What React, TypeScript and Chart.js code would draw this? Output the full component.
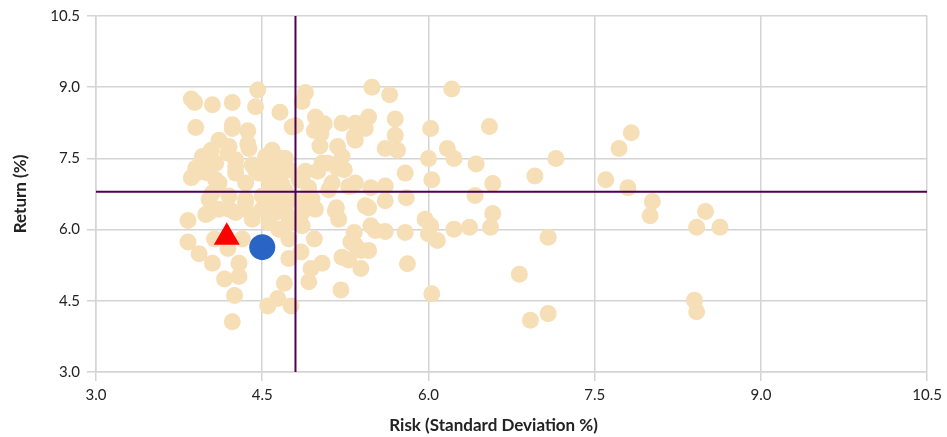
import React, { useEffect, useRef } from "react";
import { Chart, registerables } from "chart.js";

Chart.register(...registerables);

// Fund universe: risk (standard deviation %) and return (%)
const fundRisk = [
  3.86, 3.89, 4.05, 4.23, 4.46, 4.44, 4.66, 3.90, 4.23, 4.37,
  4.23, 4.11, 4.04, 4.19, 4.38, 4.59, 4.71, 4.20, 4.37, 3.96,
  3.90, 3.86, 4.08, 4.26, 4.41, 4.53, 4.68, 4.74, 4.62, 4.47,
  4.26, 4.08, 4.35, 4.56, 4.68, 4.86, 4.89, 4.05, 4.20, 4.35,
  4.50, 4.65, 4.02, 4.20, 4.35, 4.50, 4.62, 4.71, 4.80, 4.56,
  3.83, 4.86, 3.83, 3.93, 4.05, 4.16, 4.29, 4.29, 4.25, 4.23,
  4.19, 4.07, 3.99, 4.32, 4.70, 4.64, 4.55, 4.76, 4.74, 4.85,
  4.74, 4.97, 4.94, 5.04, 4.92, 5.21, 5.22, 5.28, 5.39, 5.33,
  5.34, 5.19, 5.16, 5.43, 4.86, 4.98, 4.71, 4.41, 4.26, 4.11,
  4.02, 4.35, 4.56, 4.74, 4.65, 4.80, 4.89, 4.86, 5.49, 5.65,
  6.21, 4.98, 5.06, 4.97, 5.03, 5.02, 5.22, 5.34, 5.46, 5.43,
  5.34, 5.18, 5.70, 5.70, 5.61, 5.72, 6.02, 6.17, 6.23, 6.00,
  5.79, 6.03, 4.77, 5.24, 5.04, 4.89, 5.13, 5.31, 5.48, 5.61,
  5.17, 5.46, 5.61, 5.80, 4.95, 4.83, 5.09, 5.22, 5.00, 5.18,
  5.34, 4.56, 4.71, 4.92, 5.10, 5.28, 4.11, 4.01, 4.02, 4.26,
  4.44, 4.56, 4.65, 3.90, 5.97, 6.02, 6.00, 6.08, 6.23, 6.37,
  6.56, 6.58, 5.79, 5.61, 5.52, 5.48, 5.30, 5.81, 6.03, 4.77,
  5.46, 5.39, 6.55, 6.43, 6.58, 6.42, 6.96, 7.15, 7.08, 6.82,
  6.92, 7.08, 7.83, 7.72, 7.60, 7.80, 8.02, 8.00, 8.50, 8.42,
  8.63, 8.40, 8.42, 5.33,
];

const fundReturn = [
  8.75, 8.68, 8.63, 8.68, 8.94, 8.59, 8.47, 8.15, 8.21, 8.08,
  8.13, 7.88, 7.67, 7.61, 7.71, 7.67, 7.50, 7.75, 7.81, 7.54,
  7.29, 7.09, 7.40, 7.47, 7.36, 7.54, 7.50, 7.26, 7.19, 7.19,
  7.19, 7.05, 6.98, 7.05, 6.95, 7.05, 6.64, 6.77, 6.71, 6.64,
  6.71, 6.71, 6.36, 6.43, 6.43, 6.43, 6.36, 6.50, 6.22, 6.15,
  6.19, 6.08, 5.74, 5.49, 5.29, 4.96, 5.29, 5.01, 4.61, 4.06,
  5.60, 5.80, 6.32, 5.80, 4.87, 4.55, 4.39, 4.39, 5.39, 5.53,
  5.80, 5.80, 5.18, 5.29, 4.90, 4.73, 5.42, 5.36, 5.18, 5.94,
  5.67, 6.22, 6.39, 6.50, 6.36, 6.43, 6.36, 6.22, 6.36, 6.43,
  6.64, 6.57, 6.64, 6.15, 6.01, 8.19, 8.89, 8.70, 9.00, 8.84,
  8.96, 8.37, 8.23, 8.09, 8.02, 7.76, 8.24, 8.24, 8.37, 8.13,
  7.88, 7.75, 8.33, 7.99, 7.71, 7.67, 8.13, 7.71, 7.50, 7.50,
  7.19, 7.05, 8.16, 7.26, 7.40, 7.23, 6.98, 6.92, 6.88, 6.92,
  6.46, 6.46, 6.61, 6.67, 6.64, 7.05, 7.40, 7.54, 7.23, 7.29,
  6.98, 6.84, 6.81, 6.88, 6.84, 6.91, 6.98, 7.19, 7.43, 7.33,
  7.26, 7.33, 7.26, 7.19, 6.22, 6.08, 5.91, 5.77, 6.01, 6.05,
  6.05, 6.34, 5.94, 5.96, 5.98, 6.08, 5.74, 5.28, 4.65, 6.64,
  5.56, 5.56, 8.17, 7.38, 6.97, 6.72, 7.13, 7.50, 5.84, 5.06,
  4.09, 4.23, 8.04, 7.71, 7.05, 6.88, 6.59, 6.29, 6.38, 6.05,
  6.05, 4.51, 4.27, 7.96,
];

// Highlighted markers
const benchmarkRisk = [4.18];
const benchmarkReturn = [5.84];
const portfolioRisk = [4.5];
const portfolioReturn = [5.63];

// Average crosshair
const averageRisk = 4.8;
const averageReturn = 6.8;

// Axes
const axisMin = 3.0;
const axisMax = 10.5;
const axisTicks = [3.0, 4.5, 6.0, 7.5, 9.0, 10.5];
const xTitle = "Risk (Standard Deviation %)";
const yTitle = "Return (%)";

const toPoints = (xs: number[], ys: number[]) => xs.map((x, i) => ({ x, y: ys[i] }));

const FONT = "Lato, 'Open Sans', 'DejaVu Sans', sans-serif";

export default function App() {
  const ref = useRef<HTMLCanvasElement | null>(null);

  useEffect(() => {
    if (!ref.current) return;

    const xTitlePlugin = {
      id: "xTitlePlugin",
      afterDraw(chart: any) {
        const { ctx, chartArea } = chart;
        ctx.save();
        ctx.font = `bold 17px ${FONT}`;
        ctx.fillStyle = "#222";
        ctx.textAlign = "center";
        ctx.textBaseline = "middle";
        ctx.fillText(xTitle, (chartArea.left + chartArea.right) / 2 - 18, chart.height - 11);
        ctx.restore();
      },
    };

    const tickCfg = {
      callback: (v: any) => Number(v).toFixed(1),
      font: { family: FONT, size: 15 },
      color: "#222",
      autoSkip: false,
      maxRotation: 0,
    };
    const gridCfg = { color: "#d4d4d4", lineWidth: 1.5, tickLength: 9, drawTicks: true };
    const borderCfg = { color: "#d4d4d4", width: 1.5 };

    const chart = new Chart(ref.current, {
      type: "scatter",
      data: {
        datasets: [
          {
            label: "Benchmark",
            data: toPoints(benchmarkRisk, benchmarkReturn),
            pointStyle: "triangle",
            pointRadius: 15,
            backgroundColor: "#ff0000",
            borderColor: "#ff0000",
            borderWidth: 0,
            order: 0,
          },
          {
            label: "Portfolio",
            data: toPoints(portfolioRisk, portfolioReturn),
            pointStyle: "circle",
            pointRadius: 13,
            backgroundColor: "#2a64c5",
            borderColor: "#2a64c5",
            borderWidth: 0,
            order: 1,
          },
          {
            label: "Average risk",
            data: [
              { x: averageRisk, y: axisMin },
              { x: averageRisk, y: axisMax },
            ],
            showLine: true,
            pointRadius: 0,
            borderColor: "#4e0052",
            borderWidth: 2,
            order: 2,
          },
          {
            label: "Average return",
            data: [
              { x: axisMin, y: averageReturn },
              { x: axisMax, y: averageReturn },
            ],
            showLine: true,
            pointRadius: 0,
            borderColor: "#4e0052",
            borderWidth: 2,
            order: 3,
          },
          {
            label: "Funds",
            data: toPoints(fundRisk, fundReturn),
            pointStyle: "circle",
            pointRadius: 8.5,
            backgroundColor: "#f6dfb6",
            borderWidth: 0,
            order: 4,
          },
        ],
      },
      options: {
        animation: false,
        responsive: false,
        devicePixelRatio: 1,
        layout: { padding: { top: 11, right: 17, left: 0, bottom: 0 } },
        plugins: { legend: { display: false }, tooltip: { enabled: false } },
        scales: {
          x: {
            type: "linear",
            min: axisMin,
            max: axisMax,
            afterBuildTicks: (s: any) => {
              s.ticks = axisTicks.map((v) => ({ value: v }));
            },
            afterFit: (s: any) => {
              s.height = 65;
            },
            ticks: { ...tickCfg, padding: 5 },
            grid: gridCfg,
            border: borderCfg,
            title: { display: false },
          },
          y: {
            type: "linear",
            min: axisMin,
            max: axisMax,
            afterBuildTicks: (s: any) => {
              s.ticks = axisTicks.map((v) => ({ value: v }));
            },
            afterFit: (s: any) => {
              s.width = 96;
            },
            ticks: { ...tickCfg, padding: 7 },
            grid: gridCfg,
            border: borderCfg,
            title: {
              display: true,
              text: yTitle,
              font: { family: FONT, size: 17, weight: "bold" },
              color: "#222",
              padding: { top: 10, bottom: 4 },
            },
          },
        },
      },
      plugins: [xTitlePlugin],
    } as any);

    return () => chart.destroy();
  }, []);

  return (
    <div style={{ position: "fixed", left: 0, top: 0, width: 947, height: 437, background: "#fff" }}>
      <canvas ref={ref} width={947} height={437} style={{ display: "block" }} />
    </div>
  );
}
